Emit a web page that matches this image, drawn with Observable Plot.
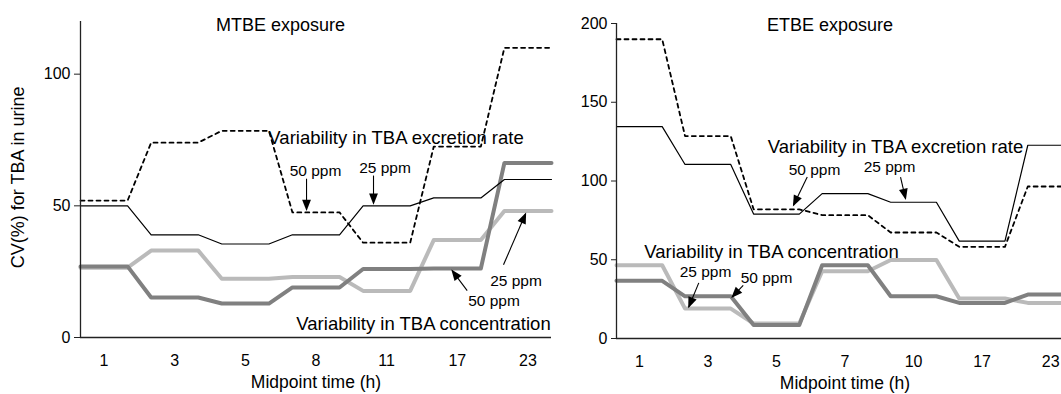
<!DOCTYPE html>
<html><head><meta charset="utf-8">
<script src="https://cdn.jsdelivr.net/npm/d3@7"></script>
<script src="https://cdn.jsdelivr.net/npm/@observablehq/plot@0.6"></script>
<style>
html,body{margin:0;padding:0;background:#fff;overflow:hidden;width:1061px;height:394px;}
#wrap{position:relative;width:1061px;height:394px;overflow:hidden;font-family:"Liberation Sans",Arial,sans-serif;}
#left,#right{position:absolute;top:0;}
#left{left:0px;width:560px}
#right{left:560px;width:520px}
#wrap svg{max-width:none !important;display:block}
</style></head><body>
<svg width="0" height="0" style="position:absolute">
<defs>
<pattern id="texLight" width="2" height="2" patternUnits="userSpaceOnUse">
<rect width="2" height="2" fill="#d8d8d8"/><rect width="1" height="1" fill="#9c9c9c"/><rect x="1" y="1" width="1" height="1" fill="#9c9c9c"/>
</pattern>
<pattern id="texDark" width="2" height="2" patternUnits="userSpaceOnUse">
<rect width="2" height="2" fill="#a0a0a0"/><rect width="1" height="1" fill="#606060"/><rect x="1" y="1" width="1" height="1" fill="#606060"/>
</pattern>
</defs>
</svg>
<div id="wrap"><div id="left"></div><div id="right"></div></div>
<script>
// ---- data ----
const mtbeTimes = ["1", "3", "5", "8", "11", "17", "23"];
const etbeTimes = ["1", "3", "5", "7", "10", "17", "23"];

const mtbeRate50 = [52, 74, 78.5, 47.5, 36, 72.5, 110];
const mtbeRate25 = [50, 39, 35.5, 39, 50, 53, 60];
const mtbeConc25 = [26.5, 33, 22.3, 23, 17.7, 37, 48];
const mtbeConc50 = [27, 15.2, 12.9, 19, 26, 26.2, 66.3];

const etbeRate50 = [190, 128.5, 82, 78.3, 67.3, 58.2, 96.5];
const etbeRate25 = [134.5, 110.5, 79, 92, 86.5, 61.8, 122.7];
const etbeConc25 = [46.5, 19, 9.5, 42.7, 49.8, 25.4, 22.6];
const etbeConc50 = [36.6, 26.8, 8.5, 46.5, 26.8, 22.6, 27.9];

const mtbeLabels = [
  {x: 4.133, y: 75.9, text: "Variability in TBA excretion rate", big: true},
  {x: 4.522, y: 5.1, text: "Variability in TBA concentration", big: true},
  {x: 2.993, y: 63.4, text: "50 ppm", big: false},
  {x: 3.977, y: 64.5, text: "25 ppm", big: false},
  {x: 5.831, y: 21.5, text: "25 ppm", big: false},
  {x: 5.520, y: 14.0, text: "50 ppm", big: false}
];
const mtbeArrows = [
  {x1: 2.866, y1: 60.3, x2: 2.866, y2: 48.6},
  {x1: 3.814, y1: 61.5, x2: 3.814, y2: 51.0},
  {x1: 5.654, y1: 27.6, x2: 5.966, y2: 47.0},
  {x1: 5.140, y1: 17.8, x2: 4.928, y2: 25.4}
];
const etbeLabels = [
  {x: 3.737, y: 121.3, text: "Variability in TBA excretion rate", big: true},
  {x: 1.928, y: 54.9, text: "Variability in TBA concentration", big: true},
  {x: 2.555, y: 106.8, text: "50 ppm", big: false},
  {x: 3.649, y: 108.6, text: "25 ppm", big: false},
  {x: 0.965, y: 42.2, text: "25 ppm", big: false},
  {x: 1.855, y: 38.7, text: "50 ppm", big: false}
];
const etbeArrows = [
  {x1: 2.449, y1: 102.5, x2: 2.249, y2: 84.6},
  {x1: 3.810, y1: 102.5, x2: 3.883, y2: 88.8},
  {x1: 0.867, y1: 35.3, x2: 0.721, y2: 20.0},
  {x1: 1.515, y1: 33.8, x2: 1.355, y2: 26.4}
];

// ---- helpers ----
const half = 1 / 3;
function steps(values) {
  return values.flatMap((v, i) => [{x: i - half, y: v}, {x: i + half, y: v}]);
}

function panel(o) {
  const n = o.times.length;
  const marks = [
    Plot.line(steps(o.conc25), {x: "x", y: "y", stroke: "url(#texLight)", strokeWidth: 4}),
    Plot.line(steps(o.conc50), {x: "x", y: "y", stroke: "url(#texDark)", strokeWidth: 4}),
    Plot.line(steps(o.rate25), {x: "x", y: "y", stroke: "black", strokeWidth: 1.2}),
    Plot.line(steps(o.rate50), {x: "x", y: "y", stroke: "black", strokeWidth: 1.8, strokeDasharray: "4,4"}),
    Plot.ruleY([0], {stroke: "#222", strokeWidth: 1.3}),
    Plot.ruleX([-half], {y1: o.yDomain[0], y2: o.yDomain[1], stroke: "#222", strokeWidth: 1.3}),
    Plot.axisY(o.yTicks, {tickSize: o.tickSize, tickPadding: 4, fontSize: 16, label: null, stroke: "#222"}),
    Plot.axisX(d3.range(n), {tickSize: 0, tickPadding: 17, fontSize: 16, tickFormat: i => o.times[i], label: null}),
    Plot.text(o.labels.filter(d => d.big), {x: "x", y: "y", text: "text", fontSize: 18.5, lineAnchor: "middle"}),
    Plot.text(o.labels.filter(d => !d.big), {x: "x", y: "y", text: "text", fontSize: 15.5, lineAnchor: "middle"}),
    Plot.link(o.arrows, {x1: "x1", y1: "y1", x2: "x2", y2: "y2", stroke: "black", strokeWidth: 1.1, markerEnd: "arrow"}),
    Plot.text([o.title], {x: o.titleX, y: o.titleY, text: d => d, fontSize: 18, lineAnchor: "middle"}),
    Plot.text(["Midpoint time (h)"], {frameAnchor: "bottom", dy: 45, text: d => d, fontSize: 17.5, lineAnchor: "middle"})
  ];
  if (o.ylabel) {
    marks.push(Plot.text([o.ylabel], {x: o.ylabelX, y: o.ylabelY, text: d => d, rotate: -90, fontSize: 18, lineAnchor: "middle"}));
  }
  const svg = Plot.plot({
    width: o.width, height: 394,
    marginLeft: o.marginLeft, marginRight: o.marginRight, marginTop: o.marginTop, marginBottom: o.marginBottom,
    x: {type: "linear", domain: [-half, n - 1 + half], label: null},
    y: {domain: o.yDomain, label: null},
    style: {fontFamily: "'Liberation Sans', Arial, sans-serif", background: "white", color: "black", overflow: "visible", maxWidth: "none"},
    marks
  });
  const s = d3.select(svg);
  s.selectAll("marker")
    .attr("viewBox", "-12 -6 14 12")
    .attr("markerWidth", 12.5).attr("markerHeight", 11)
    .attr("fill", "black").attr("stroke", "none");
  s.selectAll("marker path").attr("d", "M-10,-4.5L1.5,0L-10,4.5Z");
  return svg;
}

document.getElementById("left").appendChild(panel({
  times: mtbeTimes, rate50: mtbeRate50, rate25: mtbeRate25, conc25: mtbeConc25, conc50: mtbeConc50,
  yDomain: [0, 120], yTicks: [0, 50, 100], tickSize: 6,
  width: 560, marginLeft: 80, marginRight: 9, marginTop: 21, marginBottom: 57,
  labels: mtbeLabels, arrows: mtbeArrows,
  title: "MTBE exposure", titleX: 2.498, titleY: 118.4,
  ylabel: "CV(%) for TBA in urine", ylabelX: -1.211, ylabelY: 60.8
}));

document.getElementById("right").appendChild(panel({
  times: etbeTimes, rate50: etbeRate50, rate25: etbeRate25, conc25: etbeConc25, conc50: etbeConc50,
  yDomain: [0, 200], yTicks: [0, 50, 100, 150, 200], tickSize: 5,
  width: 520, marginLeft: 56, marginRight: 7, marginTop: 23, marginBottom: 56,
  labels: etbeLabels, arrows: etbeArrows,
  title: "ETBE exposure", titleX: 2.781, titleY: 198.7
}));
</script>
</body></html>
